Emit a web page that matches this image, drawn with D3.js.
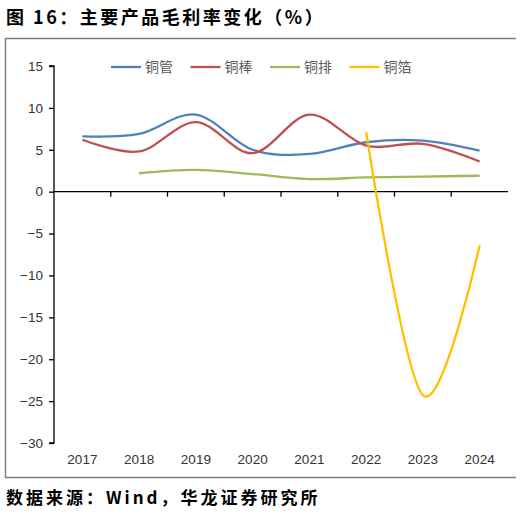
<!DOCTYPE html>
<html>
<head>
<meta charset="utf-8">
<script src="https://cdn.jsdelivr.net/npm/d3@7"></script>
<style>
  body { margin: 0; background: #fff; }
  svg { display: block; }
  .tick text { font-family: "Liberation Sans", Arial, sans-serif; font-size: 13.5px; fill: #333; }
</style>
</head>
<body>
<div id="container"></div>
<script>
// data
var years = ["2017", "2018", "2019", "2020", "2021", "2022", "2023", "2024"];
var tube = [6.6, 6.9, 9.2, 5.0, 4.5, 5.9, 6.1, 4.9];      // 铜管
var rod = [6.2, 4.8, 8.3, 4.6, 9.2, 5.5, 5.7, 3.6];       // 铜棒
var busbar = [null, 2.2, 2.6, 2.1, 1.5, 1.7, 1.8, 1.9];   // 铜排
var foil = [null, null, null, null, null, 7.1, -24.3, -6.4]; // 铜箔
var seriesNames = ["铜管", "铜棒", "铜排", "铜箔"];
var yTicks = [15, 10, 5, 0, -5, -10, -15, -20, -25, -30];

var colors = ["#4f81bd", "#c0504d", "#9bbb59", "#ffc000"];
var allSeries = [tube, rod, busbar, foil];

var svg = d3.select("div#container")
    .append("svg")
    .attr("width", 521)
    .attr("height", 517);

// title and source
svg.append("text")
    .attr("x", 6).attr("y", 24)
    .style("font-family", "'Noto Sans CJK SC', sans-serif")
    .style("font-weight", "bold")
    .style("font-size", "18px")
    .style("letter-spacing", "2.5px")
    .text("图 16：主要产品毛利率变化（%）");

svg.append("text")
    .attr("x", 6).attr("y", 504)
    .style("font-family", "'Noto Sans CJK SC', sans-serif")
    .style("font-weight", "bold")
    .style("font-size", "17px")
    .style("letter-spacing", "3px")
    .text("数据来源：Wind，华龙证券研究所");

// frame (no right edge)
svg.append("path")
    .attr("d", "M516,38.5H5.5V477.5H516")
    .attr("fill", "none")
    .attr("stroke", "#808080")
    .attr("stroke-width", 1.5);

var x = d3.scaleBand()
    .domain(years)
    .range([54, 508]);

var y = d3.scaleLinear()
    .domain([-30, 15])
    .range([443, 66]);

// y axis
var yAxis = svg.append("g")
    .attr("transform", "translate(54,0)")
    .call(d3.axisLeft(y).tickValues(yTicks).tickSize(5).tickPadding(6)
        .tickFormat(function (d) { return d < 0 ? "\u2212" + Math.abs(d) : d; }));
yAxis.selectAll("line, path").attr("stroke", "#000").attr("stroke-width", 1.3);
yAxis.select(".domain").attr("d", "M-5," + y(15) + "H0V" + y(-30) + "H-5");

// x axis line at zero, ticks between categories
svg.append("line")
    .attr("x1", 54).attr("x2", 508)
    .attr("y1", y(0)).attr("y2", y(0))
    .attr("stroke", "#000").attr("stroke-width", 1.3);

svg.selectAll(".xsep")
    .data(years.slice(1))
    .enter()
    .append("line")
    .attr("x1", function (d) { return x(d); })
    .attr("x2", function (d) { return x(d); })
    .attr("y1", y(0)).attr("y2", y(0) + 5)
    .attr("stroke", "#000").attr("stroke-width", 1.3);

// x labels at the bottom
var xAxis = svg.append("g")
    .attr("transform", "translate(0," + y(-30) + ")")
    .call(d3.axisBottom(x).tickSize(0).tickPadding(11));
xAxis.select(".domain").remove();

// lines
var line = d3.line()
    .defined(function (d) { return d != null; })
    .x(function (d, i) { return x(years[i]) + x.bandwidth() / 2; })
    .y(function (d) { return y(d); })
    .curve(d3.curveCardinal.tension(0));

svg.selectAll(".series")
    .data(allSeries)
    .enter()
    .append("path")
    .attr("d", line)
    .attr("fill", "none")
    .attr("stroke", function (d, i) { return colors[i]; })
    .attr("stroke-width", 2.3);

// legend
var legend = svg.selectAll(".legend")
    .data(seriesNames)
    .enter()
    .append("g")
    .attr("transform", function (d, i) { return "translate(" + (111 + i * 79.5) + ",67)"; });

legend.append("line")
    .attr("x1", 0).attr("x2", 30)
    .attr("stroke", function (d, i) { return colors[i]; })
    .attr("stroke-width", 2.3);

legend.append("text")
    .attr("x", 34).attr("y", 5)
    .style("font-family", "'Noto Sans CJK SC', sans-serif")
    .style("font-size", "14px")
    .style("fill", "#595959")
    .text(function (d) { return d; });
</script>
</body>
</html>
